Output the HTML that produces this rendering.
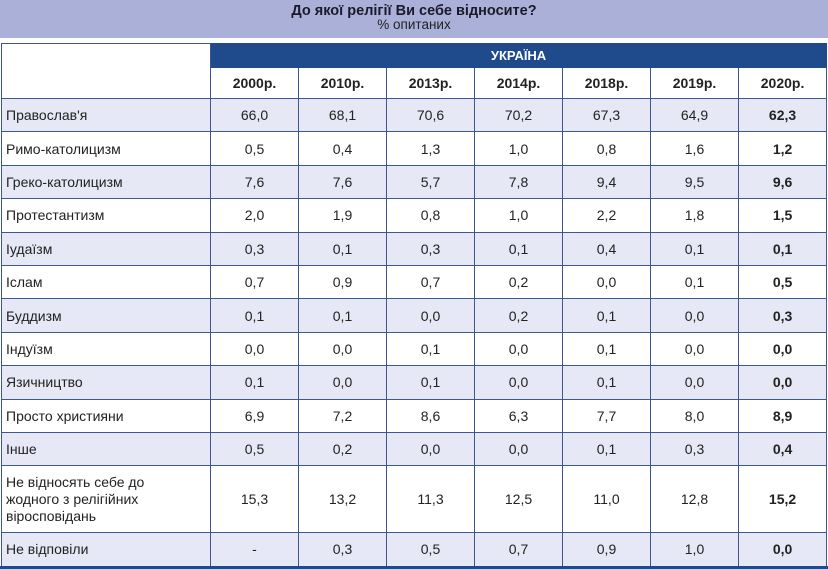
<!DOCTYPE html><html><head><meta charset="utf-8"><style>
body{margin:0;width:828px;height:569px;background:#fff;overflow:hidden;font-family:"Liberation Sans",Arial,sans-serif;color:#222}
.hd{position:absolute;left:0;top:0;width:828px;height:38px;background:#abb0d8;text-align:center;font-size:13.5px;line-height:14px}
.hd b{display:block;padding-top:4px;font-size:14.5px;color:#1a1a2a}
table{position:absolute;left:1px;top:43px;border-collapse:collapse;table-layout:fixed;width:825px}
td{border:1px solid #3d5793;font-size:14px;text-align:center;padding:0;height:32.4px}
td.n{text-align:left;padding-left:4px}
tr.o td{background:#e7e8f5}
.ua td.b{background:#1f4a8c;color:#fff;font-weight:bold;height:23px;font-size:13px;border-color:#1f4a8c}
.yr td{font-weight:bold;height:30px}
td.l{font-weight:bold}
.bot{position:absolute;left:0;top:566px;width:828px;height:3px;background:#1f4a8c}
</style></head><body>
<div class="hd"><b>До якої релігії Ви себе відносите?</b>% опитаних</div>
<table>
<colgroup><col style="width:209px"><col style="width:88px"><col style="width:88px"><col style="width:88px"><col style="width:88px"><col style="width:88px"><col style="width:88px"><col style="width:88px"></colgroup>
<tr class="ua"><td rowspan="2" style="background:#fff"></td><td class="b" colspan="7">УКРАЇНА</td></tr>
<tr class="yr"><td>2000р.</td><td>2010р.</td><td>2013р.</td><td>2014р.</td><td>2018р.</td><td>2019р.</td><td>2020р.</td></tr>
<tr class="o"><td class="n">Православ'я</td><td>66,0</td><td>68,1</td><td>70,6</td><td>70,2</td><td>67,3</td><td>64,9</td><td class="l">62,3</td></tr>
<tr><td class="n">Римо-католицизм</td><td>0,5</td><td>0,4</td><td>1,3</td><td>1,0</td><td>0,8</td><td>1,6</td><td class="l">1,2</td></tr>
<tr class="o"><td class="n">Греко-католицизм</td><td>7,6</td><td>7,6</td><td>5,7</td><td>7,8</td><td>9,4</td><td>9,5</td><td class="l">9,6</td></tr>
<tr><td class="n">Протестантизм</td><td>2,0</td><td>1,9</td><td>0,8</td><td>1,0</td><td>2,2</td><td>1,8</td><td class="l">1,5</td></tr>
<tr class="o"><td class="n">Іудаїзм</td><td>0,3</td><td>0,1</td><td>0,3</td><td>0,1</td><td>0,4</td><td>0,1</td><td class="l">0,1</td></tr>
<tr><td class="n">Іслам</td><td>0,7</td><td>0,9</td><td>0,7</td><td>0,2</td><td>0,0</td><td>0,1</td><td class="l">0,5</td></tr>
<tr class="o"><td class="n">Буддизм</td><td>0,1</td><td>0,1</td><td>0,0</td><td>0,2</td><td>0,1</td><td>0,0</td><td class="l">0,3</td></tr>
<tr><td class="n">Індуїзм</td><td>0,0</td><td>0,0</td><td>0,1</td><td>0,0</td><td>0,1</td><td>0,0</td><td class="l">0,0</td></tr>
<tr class="o"><td class="n">Язичництво</td><td>0,1</td><td>0,0</td><td>0,1</td><td>0,0</td><td>0,1</td><td>0,0</td><td class="l">0,0</td></tr>
<tr><td class="n">Просто християни</td><td>6,9</td><td>7,2</td><td>8,6</td><td>6,3</td><td>7,7</td><td>8,0</td><td class="l">8,9</td></tr>
<tr class="o"><td class="n">Інше</td><td>0,5</td><td>0,2</td><td>0,0</td><td>0,0</td><td>0,1</td><td>0,3</td><td class="l">0,4</td></tr>
<tr><td class="n" style="height:66px;line-height:17px">Не відносять себе до<br>жодного з релігійних<br>віросповідань</td><td>15,3</td><td>13,2</td><td>11,3</td><td>12,5</td><td>11,0</td><td>12,8</td><td class="l">15,2</td></tr>
<tr class="o"><td class="n" style="height:32px">Не відповіли</td><td>-</td><td>0,3</td><td>0,5</td><td>0,7</td><td>0,9</td><td>1,0</td><td class="l">0,0</td></tr>
</table>
<div class="bot"></div>
</body></html>
